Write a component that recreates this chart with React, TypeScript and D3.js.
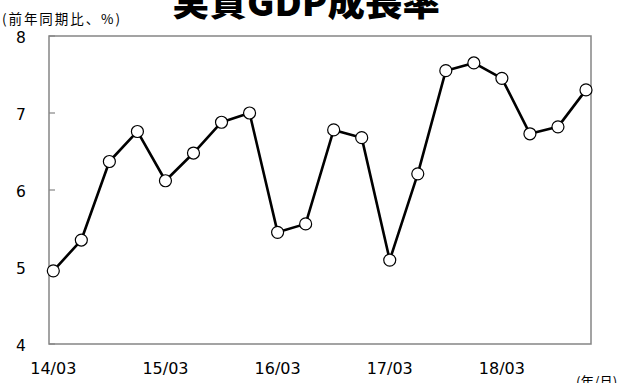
import React from "react";
import * as d3 from "d3";

const periods = [
  "14/03", "14/06", "14/09", "14/12",
  "15/03", "15/06", "15/09", "15/12",
  "16/03", "16/06", "16/09", "16/12",
  "17/03", "17/06", "17/09", "17/12",
  "18/03", "18/06", "18/09", "18/12",
];
const growth = [
  4.95, 5.35, 6.37, 6.76, 6.12, 6.48, 6.88, 7.0, 5.45, 5.56,
  6.78, 6.68, 5.09, 6.21, 7.55, 7.65, 7.45, 6.73, 6.82, 7.3,
];
const xTickLabels = ["14/03", "15/03", "16/03", "17/03", "18/03"];
const yTicks = [4, 5, 6, 7, 8];

const W = 625;
const H = 383;
const frame = { left: 49, right: 591, top: 36, bottom: 344 };
const num = "'DejaVu Sans', Verdana, sans-serif";
const jp = "'Noto Sans CJK JP', sans-serif";

export default function App() {
  const x = d3
    .scalePoint<string>()
    .domain(periods)
    .range([53.3, 586]);
  const y = d3.scaleLinear().domain([4, 8]).range([frame.bottom, frame.top]);
  const line = d3
    .line<number>()
    .x((_, i) => x(periods[i]) as number)
    .y((d) => y(d));

  return (
    <svg
      width={W}
      height={H}
      style={{ position: "absolute", left: 0, top: 0, background: "#fff" }}
    >
      <text
        x={172}
        y={16}
        fontFamily={jp}
        fontWeight={900}
        fontSize={36}
        textLength={268}
        lengthAdjust="spacingAndGlyphs"
        fill="#000"
      >
        実質GDP成長率
      </text>
      <text
        x={2}
        y={24}
        fontFamily={jp}
        fontSize={13.5}
        textLength={118}
        lengthAdjust="spacing"
        fill="#000"
      >
        (前年同期比、%)
      </text>

      <rect
        x={frame.left}
        y={frame.top}
        width={frame.right - frame.left}
        height={frame.bottom - frame.top}
        fill="none"
        stroke="#858585"
        strokeWidth={1.5}
      />
      {yTicks.map((t) => (
        <g key={t}>
          <line
            x1={frame.left}
            x2={frame.left + 6}
            y1={y(t)}
            y2={y(t)}
            stroke="#858585"
            strokeWidth={1.2}
          />
          <text
            x={21}
            y={y(t) + 6.5}
            textAnchor="middle"
            fontFamily={num}
            fontSize={15.5}
            fill="#000"
          >
            {t}
          </text>
        </g>
      ))}
      {xTickLabels.map((l) => (
        <text
          key={l}
          x={x(l) as number}
          y={374}
          textAnchor="middle"
          fontFamily={num}
          fontSize={16}
          fill="#000"
        >
          {l}
        </text>
      ))}
      <text x={576} y={387} fontFamily={jp} fontSize={13.5} fill="#000">
        (年/月)
      </text>

      <path
        d={line(growth) ?? ""}
        fill="none"
        stroke="#000"
        strokeWidth={2.6}
        strokeLinejoin="round"
      />
      {growth.map((v, i) => (
        <circle
          key={periods[i]}
          cx={x(periods[i]) as number}
          cy={y(v)}
          r={6}
          fill="#fff"
          stroke="#000"
          strokeWidth={1.2}
        />
      ))}
    </svg>
  );
}
